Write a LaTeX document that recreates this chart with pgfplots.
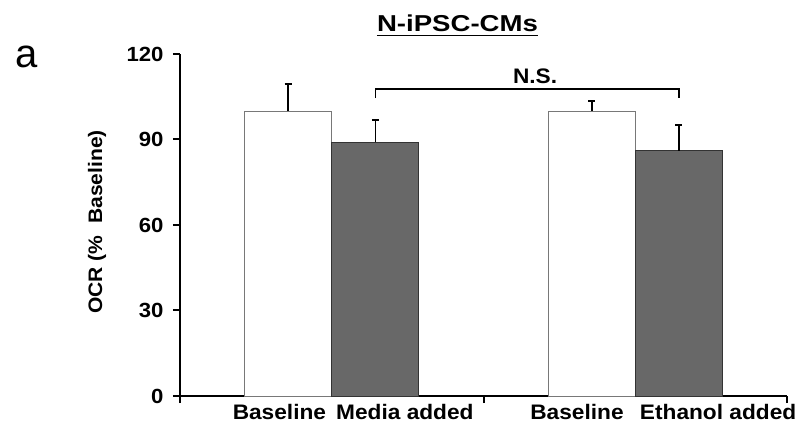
\documentclass[border=0pt]{standalone}
\usepackage{pgfplots}
\pgfplotsset{compat=1.18}
\usepackage{fontspec}
\setmainfont{Liberation Sans}[FakeStretch=1.08]
\newfontfamily\titlefont{Liberation Sans}[FakeStretch=1.2]
\newfontfamily\plainfont{Liberation Sans}
\definecolor{barg}{RGB}{104,104,104}
\definecolor{edgeg}{RGB}{120,120,120}
\begin{document}
\begin{tikzpicture}
\path[use as bounding box] (-180pt,-40pt) rectangle (625pt,396pt);
\begin{axis}[
  at={(0pt,0pt)}, anchor=south west,
  scale only axis, width=607pt, height=342pt,
  xmin=0, xmax=2, ymin=0, ymax=120,
  clip=false,
  axis x line*=bottom, axis y line*=left,
  axis line style={line width=2.3pt, black},
  ytick={0,30,60,90,120},
  xtick={0,1,2}, xticklabels={},
  tick align=outside, major tick length=7pt,
  tick style={line width=2pt, black},
  /pgf/number format/assume math mode=true,
  yticklabel style={font=\fontsize{20.5}{23}\selectfont\bfseries, xshift=-6pt},
  extra x ticks={0.3275,0.741,1.308,1.773},
  extra x tick labels={Baseline, Media added, Baseline, Ethanol added},
  extra x tick style={major tick length=0pt,
     xticklabel style={font=\fontsize{21}{24}\selectfont\bfseries, yshift=-5pt}},
]
\addplot[ybar, bar width=0.287, bar shift=0pt, fill=white, draw=edgeg, line width=0.9pt,
  error bars/.cd, y dir=plus, y explicit,
  error bar style={line width=1.6pt, black},
  error mark options={rotate=90, mark size=3.5pt, line width=2pt, black}]
  coordinates {(0.3565,100) +- (0,9.4) (1.3565,100) +- (0,3.6)};
\addplot[ybar, bar width=0.287, bar shift=0pt, fill=barg, draw=black!80, line width=0.9pt,
  error bars/.cd, y dir=plus, y explicit,
  error bar style={line width=1.6pt, black},
  error mark options={rotate=90, mark size=3.5pt, line width=2pt, black}]
  coordinates {(0.6435,89) +- (0,7.7) (1.6435,86) +- (0,9.2)};
\draw[line width=1.6pt, black] (axis cs:0.6435,104.5) -- (axis cs:0.6435,107.8)
   -- (axis cs:1.6435,107.8) -- (axis cs:1.6435,104.5);
\node[anchor=base, inner sep=0pt, font=\fontsize{21}{24}\selectfont\bfseries]
   at (axis cs:1.17,109.8) {N.S.};
\end{axis}
\node (t) [anchor=base, inner sep=0pt, font=\titlefont\fontsize{23}{26}\selectfont\bfseries]
   at (277.5pt,364pt) {N-iPSC-CMs};
\draw[line width=1.8pt] ([yshift=-3.5pt]t.base west) -- ([yshift=-3.5pt]t.base east);
\node[anchor=base west, inner sep=0pt, font=\plainfont\fontsize{40}{44}\selectfont]
   at (-165pt,328pt) {a};
\node[rotate=90, inner sep=0pt, font=\fontsize{19.5}{22}\selectfont\bfseries]
   at (-83pt,174pt) {OCR (\%\ \ Baseline)};
\end{tikzpicture}
\end{document}
